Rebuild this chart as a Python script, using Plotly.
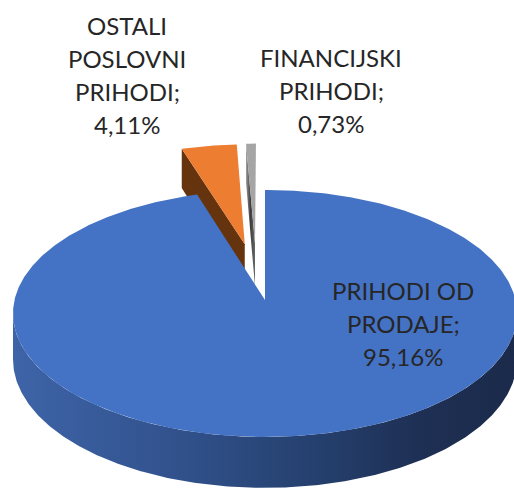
import numpy as np
import plotly.graph_objects as go

# ---- data ----
categories = ["PRIHODI OD PRODAJE", "OSTALI POSLOVNI PRIHODI", "FINANCIJSKI PRIHODI"]
values = [95.16, 4.11, 0.73]

# ---- style ----
top_colors = ["#4472C4", "#ED7D31", "#A5A5A5"]
cut_colors = ["#2f4f8a", "#66330F", "#4a4a4a"]
explode = [(0.0, 0.0), (-0.085, -0.48), (-0.042, -0.49)]   # plane offsets
words_per_line = [[2, 1], [1, 1, 1], [1, 1]]
label_pos = [(403, 298), (127, 33), (331, 65)]  # centre x, first baseline (px)
line_gap = 33
FONT = "Lato"
FSIZE = 24

# projection (pixel space)
X0, Y0, A, B, K, D = 265.0, 300.0, 250.5, 122.0, 0.109, 45.4


def proj(u, v, h=0.0):
    u = np.asarray(u, float)
    v = np.asarray(v, float)
    s = 1.0 / (1.0 - K * v)
    return X0 + A * u * s, Y0 + (B * v + D * h) * s


fig = go.Figure()


def add_poly(x, y, color=None, gradient=None):
    kw = dict(x=list(x) + [x[0]], y=list(y) + [y[0]], mode="lines", fill="toself",
              line=dict(width=0, color="rgba(0,0,0,0)"), hoverinfo="skip", showlegend=False)
    if gradient is not None:
        kw["fillgradient"] = gradient
    else:
        kw["fillcolor"] = color
    fig.add_trace(go.Scatter(**kw))


total = float(sum(values))
bounds = np.concatenate([[0.0], np.cumsum(values) / total]) * 2 * np.pi


def top_face(i):
    t0, t1 = bounds[i], bounds[i + 1]
    du, dv = explode[i]
    th = np.linspace(t0, t1, max(4, int((t1 - t0) / 0.01)))
    u = np.concatenate([[du], np.sin(th) + du])
    v = np.concatenate([[dv], -np.cos(th) + dv])
    return proj(u, v)


def cut_face(i):
    t0 = bounds[i]
    du, dv = explode[i]
    uo, vo = np.sin(t0) + du, -np.cos(t0) + dv
    u = np.array([du, uo, uo, du])
    v = np.array([dv, vo, vo, dv])
    h = np.array([0, 0, 1, 1])
    return proj(u, v, h)


# back (exploded) slices first
for i in (1, 2):
    x, y = cut_face(i)
    if i == 2:
        add_poly(x, y, gradient=dict(type="horizontal",
                                     colorscale=[[0, "#9a9a9a"], [0.5, "#3c3c3c"], [1, "#6a6a6a"]]))
    else:
        add_poly(x, y, cut_colors[i])
    x, y = top_face(i)
    add_poly(x, y, top_colors[i])

# big slice: outer side then top
ta = np.arccos(-K)
th = np.linspace(ta, 2 * np.pi - ta, 300)
u, v = np.sin(th), -np.cos(th)
xt, yt = proj(u, v, 0)
xb, yb = proj(u, v, 1)
xs = np.concatenate([xt, xb[::-1]])
ys = np.concatenate([yt, yb[::-1]])
add_poly(xs, ys, gradient=dict(type="horizontal",
                               colorscale=[[0, "#3e64a8"], [0.35, "#30508a"],
                                           [0.6, "#25406e"], [0.8, "#1e3055"], [1, "#1b2a4a"]]))
x, y = top_face(0)
add_poly(x, y, top_colors[0])

# labels
annotations = []
for i, cat in enumerate(categories):
    words = cat.split()
    lines, k = [], 0
    for n in words_per_line[i]:
        lines.append(" ".join(words[k:k + n]))
        k += n
    lines[-1] += ";"
    lines.append(f"{values[i]:.2f}".replace(".", ",") + "%")
    cx, by = label_pos[i]
    for j, ln in enumerate(lines):
        annotations.append(dict(x=cx, y=by + j * line_gap - 8, xref="x", yref="y",
                                text=ln, showarrow=False, xanchor="center", yanchor="middle",
                                font=dict(family=FONT, size=FSIZE, color="#262626")))

fig.update_layout(
    width=514, height=490, margin=dict(l=0, r=0, t=0, b=0),
    paper_bgcolor="white", plot_bgcolor="white",
    xaxis=dict(range=[0, 514], visible=False, fixedrange=True),
    yaxis=dict(range=[490, 0], visible=False, fixedrange=True),
    annotations=annotations, showlegend=False,
)
fig.write_html("out.html", config={"displayModeBar": False},
               post_script="document.body.style.margin='0';document.body.style.overflow='hidden';")
